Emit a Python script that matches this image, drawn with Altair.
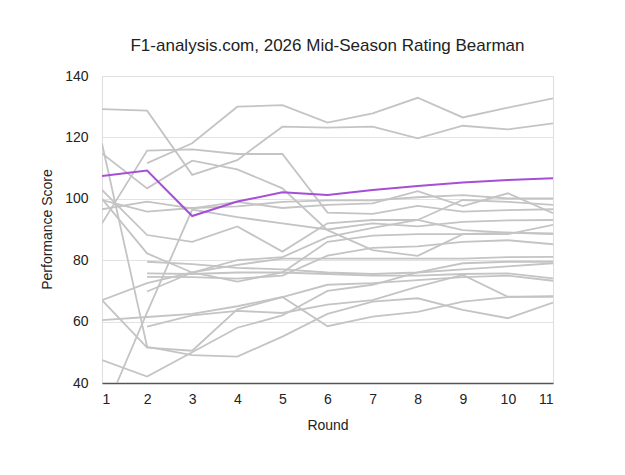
import altair as alt
import pandas as pd

rounds = [1, 2, 3, 4, 5, 6, 7, 8, 9, 10, 11]

bearman = [107.4, 109.2, 94.4, 99.1, 102.1, 101.2, 102.9, 104.2, 105.3, 106.1, 106.7]

others = {
    "A": [129.2, 128.7, 107.8, 112.6, 123.5, 123.2, 123.5, 119.7, 123.8, 122.6, 124.6],
    "B": [None, 111.6, 118.1, 130.0, 130.5, 124.8, 127.8, 132.9, 126.5, 129.7, 132.7],
    "C": [92.0, 115.7, 116.1, 114.6, 114.6, 95.5, 95.1, 97.7, 95.8, 96.3, 96.6],
    "D": [114.8, 103.4, 112.4, 109.6, 103.4, 89.8, 83.3, 81.4, 88.5, 89.0, 88.5],
    "E": [118.0, 51.8, 49.1, 48.6, 55.1, 62.5, 66.5, 67.6, 63.8, 61.1, 66.2],
    "F": [102.9, 88.2, 86.0, 91.0, 82.8, 92.0, 93.1, 93.1, 89.8, 89.0, 88.7],
    "G": [99.6, 95.8, 97.0, 97.5, 99.0, 99.5, 99.5, 100.5, 101.2, 100.1, 100.1],
    "H": [96.6, 99.1, 96.9, 99.0, 97.0, 98.0, 98.5, 102.5, 97.6, 101.8, 95.3],
    "I": [100.0, 82.2, 76.0, 73.0, 76.0, 75.5, 75.0, 75.0, 75.5, 75.7, 74.1],
    "J": [67.0, 72.5, 76.0, 78.5, 80.5, 80.5, 80.5, 80.5, 80.5, 81.0, 81.1],
    "K": [67.0, 51.5, 50.5, 64.0, 68.0, 72.0, 72.5, 73.5, 74.5, 75.0, 73.3],
    "L": [60.5, 61.5, 62.5, 65.0, 68.0, 58.5, 61.6, 63.2, 66.5, 68.0, 68.3],
    "M": [47.5, 42.1, 50.0, 58.0, 62.0, 70.0, 72.0, 76.0, 79.0, 79.5, 79.5],
    "N": [28.6, 63.0, 96.5, 94.0, 92.0, 90.0, 92.0, 91.0, 92.5, 93.0, 93.1],
    "O": [None, 79.5, 78.7, 77.5, 77.0, 76.0, 75.5, 76.0, 77.0, 78.0, 79.0],
    "P": [None, 75.7, 75.5, 76.0, 76.0, 86.0, 88.0, 88.5, 88.5, 88.5, 91.5],
    "Q": [None, 74.6, 74.5, 74.0, 75.0, 81.5, 84.0, 84.5, 86.0, 86.5, 85.2],
    "R": [None, 69.8, 76.0, 80.0, 81.0, 87.5, 90.5, 93.1, 99.6, 99.0, 98.0],
    "S": [None, 58.4, 62.0, 63.5, 62.8, 65.5, 67.0, 71.4, 75.2, 68.1, 68.1],
}

rows = []
for name, vals in others.items():
    for r, v in zip(rounds, vals):
        if v is not None:
            rows.append({"driver": name, "round": r, "score": v})
df_o = pd.DataFrame(rows)
df_b = pd.DataFrame({"driver": "Bearman", "round": rounds, "score": bearman})

font = "Liberation Sans"

x = alt.X("round:Q", title="Round",
          scale=alt.Scale(domain=[1, 11], nice=False),
          axis=alt.Axis(values=rounds, grid=False, ticks=False, labelPadding=9,
                        domainColor="#555555", domainWidth=1.5,
                        labelFontSize=14, titleFontSize=14, titlePadding=12,
                        labelColor="#222222", titleColor="#222222",
                        labelFont=font, titleFont=font, titleFontWeight="normal"))
y = alt.Y("score:Q", title="Performance Score",
          scale=alt.Scale(domain=[40, 140], nice=False, zero=False),
          axis=alt.Axis(values=[40, 60, 80, 100, 120, 140], domain=False, ticks=False,
                        gridColor="#e2e2e2", gridWidth=1, labelPadding=14,
                        labelFontSize=14, titleFontSize=14,
                        labelColor="#222222", titleColor="#222222",
                        labelFont=font, titleFont=font, titleFontWeight="normal",
                        titleX=-55, titleY=153, titleBaseline="middle"))

grey = alt.Chart(df_o).mark_line(color="#c4c4c4", strokeWidth=1.8, clip=True).encode(
    x=x, y=y, detail="driver:N")
purple = alt.Chart(df_b).mark_line(color="#a64fd6", strokeWidth=2, clip=True).encode(
    x=x, y=y)

chart = (grey + purple).properties(
    width=451, height=307,
    title=alt.TitleParams("F1-analysis.com, 2026 Mid-Season Rating Bearman",
                          font=font, fontSize=17, fontWeight="normal", color="#222222",
                          anchor="middle", offset=14),
    autosize=alt.AutoSizeParams(type="none"),
    padding={"left": 102, "top": 76, "right": 72, "bottom": 92},
).configure_view(stroke=None).configure(background="white")

chart.save("out.html", embed_options={"renderer": "svg", "actions": False})
